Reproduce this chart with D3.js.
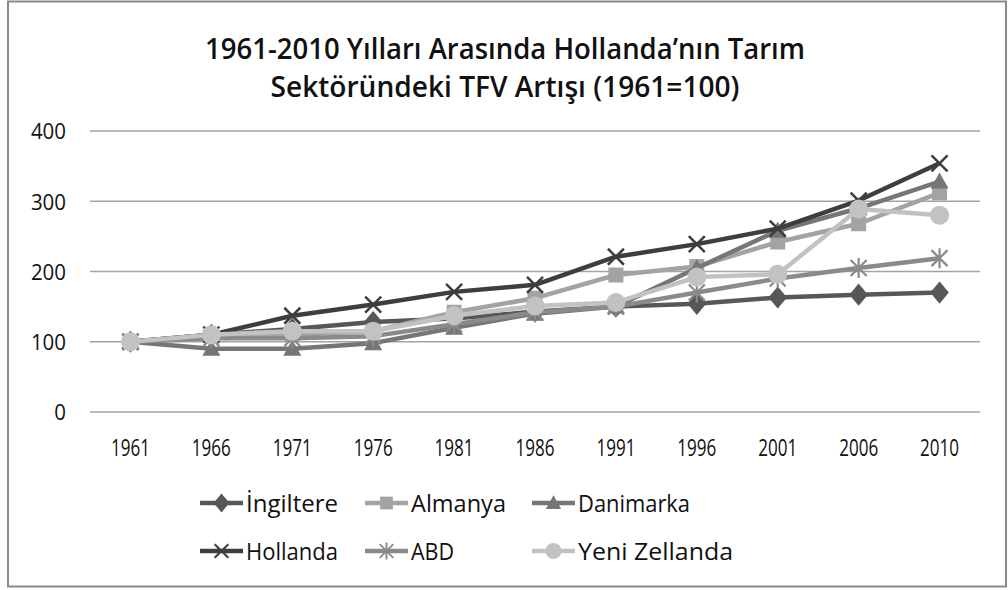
<!DOCTYPE html>
<html>
<head>
<meta charset="utf-8">
<script src="https://cdn.jsdelivr.net/npm/d3@7"></script>
<style>
  html, body { margin: 0; padding: 0; background: #fff; }
  svg { display: block; }
  text { font-family: "Open Sans", "Noto Sans", sans-serif; fill: #111; }
</style>
</head>
<body>
<svg id="chart" width="1008" height="590"></svg>
<script>
// Years on the category axis
const years = ["1961", "1966", "1971", "1976", "1981", "1986", "1991", "1996", "2001", "2006", "2010"];

// TFP index per country (1961 = 100)
const ingiltere    = [100, 110, 118, 128, 133, 143, 150, 154, 163, 167, 170];
const almanya      = [100, 108, 110, 115, 142, 162, 195, 207, 242, 268, 312];
const danimarka    = [100,  90,  90,  98, 120, 140, 150, 205, 258, 290, 328];
const hollanda     = [100, 110, 137, 153, 171, 181, 221, 239, 261, 301, 354];
const abd          = [100, 105, 105, 108, 125, 142, 150, 170, 190, 205, 219];
const yeniZelanda  = [100, 110, 115, 115, 137, 151, 156, 192, 196, 289, 280];

const seriesNames = ["İngiltere", "Almanya", "Danimarka", "Hollanda", "ABD", "Yeni Zellanda"];
const yTicks = [0, 100, 200, 300, 400];

const series = [
  { name: seriesNames[0], values: ingiltere,   color: "#575757", marker: "diamond" },
  { name: seriesNames[1], values: almanya,     color: "#a3a3a3", marker: "square" },
  { name: seriesNames[2], values: danimarka,   color: "#767676", marker: "triangle" },
  { name: seriesNames[3], values: hollanda,    color: "#3e3e3e", marker: "cross" },
  { name: seriesNames[4], values: abd,         color: "#8a8a8a", marker: "star" },
  { name: seriesNames[5], values: yeniZelanda, color: "#c2c2c2", marker: "circle" }
];

const svg = d3.select("#chart");

// Outer frame
svg.append("rect")
  .attr("x", 8).attr("y", 1.5).attr("width", 998).attr("height", 585)
  .attr("fill", "#fff").attr("stroke", "#8a8a8a").attr("stroke-width", 2);

// Title, two lines, narrowed to a condensed look
const titleLines = [
  { t: "1961-2010 Yılları Arasında  Hollanda’nın Tarım", y: 59, w: 600 },
  { t: "Sektöründeki TFV Artışı (1961=100)", y: 97, w: 469 }
];
svg.selectAll("text.title").data(titleLines).join("text")
  .attr("class", "title")
  .attr("x", 505).attr("y", d => d.y)
  .attr("text-anchor", "middle")
  .attr("font-size", 29).attr("font-weight", 600)
  .attr("textLength", d => d.w).attr("lengthAdjust", "spacingAndGlyphs")
  .text(d => d.t);

const x = d3.scaleBand().domain(years).range([90, 980]);
const y = d3.scaleLinear().domain([0, 400]).range([412, 131]);
const cx = d => x(d) + x.bandwidth() / 2;

// Horizontal gridlines
svg.append("g").selectAll("line").data(yTicks).join("line")
  .attr("x1", 90).attr("x2", 980)
  .attr("y1", d => y(d)).attr("y2", d => y(d))
  .attr("stroke", "#a3a3a3").attr("stroke-width", 1.5);

// Y axis labels
const yAxis = d3.axisLeft(y).tickValues(yTicks).tickSize(0).tickPadding(0);
const gy = svg.append("g").attr("transform", "translate(66,0)").call(yAxis);
gy.select(".domain").remove();
gy.selectAll("text")
  .attr("font-size", 22).attr("font-family", "Open Sans, sans-serif").attr("fill", "#111")
  .attr("dy", "0.36em")
  .attr("textLength", d => String(d).length * 11.7).attr("lengthAdjust", "spacingAndGlyphs");

// X axis labels
const xAxis = d3.axisBottom(x).tickSize(0).tickPadding(0);
const gx = svg.append("g").attr("transform", "translate(0,439)").call(xAxis);
gx.select(".domain").remove();
gx.selectAll("text")
  .attr("font-size", 23).attr("font-family", "Open Sans, sans-serif").attr("fill", "#111")
  .attr("dy", "0.72em")
  .attr("textLength", 39).attr("lengthAdjust", "spacingAndGlyphs");

// Marker drawing
function drawMarker(g, type, color, px, py, k = 1) {
  if (type === "diamond") {
    g.append("path").attr("d", d3.symbol(d3.symbolDiamond2, 200)())
      .attr("transform", `translate(${px},${py}) scale(${1.05 * k},${1.25 * k})`).attr("fill", color);
  } else if (type === "square") {
    const h = 7.5 * k;
    g.append("rect").attr("x", px - h).attr("y", py - h).attr("width", 2 * h).attr("height", 2 * h).attr("fill", color);
  } else if (type === "triangle") {
    g.append("path").attr("d", `M${px},${py - 9 * k}L${px + 9 * k},${py + 7 * k}L${px - 9 * k},${py + 7 * k}Z`).attr("fill", color);
  } else if (type === "cross") {
    const h = 8 * k;
    g.append("path").attr("d", `M${px - h},${py - h}L${px + h},${py + h}M${px - h},${py + h}L${px + h},${py - h}`)
      .attr("stroke", color).attr("stroke-width", 2.5 * k).attr("fill", "none");
  } else if (type === "star") {
    const h = 8 * k, v = 10 * k;
    g.append("path").attr("d", `M${px - h},${py - h}L${px + h},${py + h}M${px - h},${py + h}L${px + h},${py - h}M${px},${py - v}L${px},${py + v}`)
      .attr("stroke", color).attr("stroke-width", 2.2 * k).attr("fill", "none");
  } else if (type === "circle") {
    g.append("circle").attr("cx", px).attr("cy", py).attr("r", 9.5 * k).attr("fill", color);
  }
}

const line = d3.line().x((d, i) => cx(years[i])).y(d => y(d));

// Series: line then markers, in legend order
series.forEach(s => {
  const g = svg.append("g");
  g.append("path").datum(s.values).attr("d", line)
    .attr("fill", "none").attr("stroke", s.color).attr("stroke-width", 4.5)
    .attr("stroke-linejoin", "round");
  s.values.forEach((v, i) => drawMarker(g, s.marker, s.color, cx(years[i]), y(v)));
});

// Legend
const legendPos = [
  { x: 200, y: 503 }, { x: 365, y: 503 }, { x: 532, y: 503 },
  { x: 200, y: 551 }, { x: 365, y: 551 }, { x: 532, y: 551 }
];
const legendWidths = [92, 95, 112, 92, 43, 155];
series.forEach((s, i) => {
  const p = legendPos[i];
  const g = svg.append("g");
  g.append("line").attr("x1", p.x).attr("x2", p.x + 43).attr("y1", p.y).attr("y2", p.y)
    .attr("stroke", s.color).attr("stroke-width", 4.5);
  drawMarker(g, s.marker, s.color, p.x + 21.5, p.y, 0.85);
  g.append("text").attr("x", p.x + 46).attr("y", p.y).attr("dy", "0.36em")
    .attr("font-size", 24)
    .attr("textLength", legendWidths[i]).attr("lengthAdjust", "spacingAndGlyphs")
    .text(s.name);
});
</script>
</body>
</html>
